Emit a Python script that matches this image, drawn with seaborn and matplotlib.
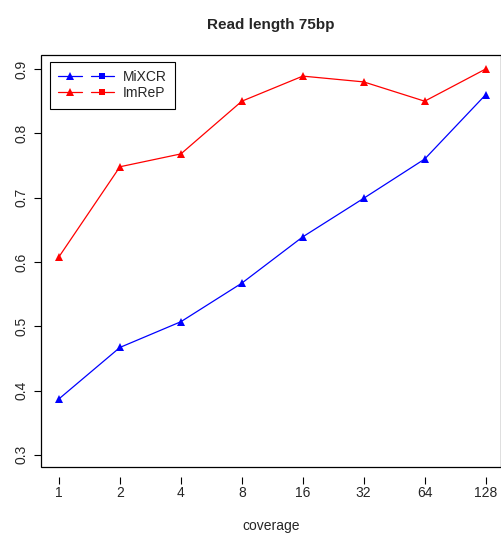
import pandas as pd
import matplotlib
matplotlib.use("Agg")
import matplotlib.pyplot as plt
import seaborn as sns
from matplotlib.lines import Line2D
from matplotlib.legend_handler import HandlerTuple
from matplotlib.patches import Rectangle

coverage = ["1", "2", "4", "8", "16", "32", "64", "128"]
mixcr = [0.387, 0.467, 0.507, 0.567, 0.639, 0.699, 0.760, 0.860]
imrep = [0.608, 0.748, 0.768, 0.850, 0.889, 0.880, 0.850, 0.900]
colors = {"MiXCR": "blue", "ImReP": "red"}

df = pd.DataFrame({
    "pos": list(range(len(coverage))) * 2,
    "value": mixcr + imrep,
    "tool": ["MiXCR"] * len(coverage) + ["ImReP"] * len(coverage),
})

sns.set_style("white")
plt.rcParams["font.family"] = ["Liberation Sans", "DejaVu Sans"]

fig = plt.figure(figsize=(5.02, 5.33), dpi=100)
ax = fig.add_axes([0.0817, 0.1238, 0.916, 0.7732])

sns.lineplot(data=df, x="pos", y="value", hue="tool", palette=colors,
             marker="^", markersize=6, markeredgewidth=0, linewidth=0.9,
             legend=False, ax=ax)

ax.set_xlim(-0.295, 7.25)
ax.set_ylim(0.281, 0.922)
ax.set_xticks(range(len(coverage)))
ax.set_xticklabels(coverage)
ax.set_yticks([0.3, 0.4, 0.5, 0.6, 0.7, 0.8, 0.9])
ax.set_yticklabels(["0.3", "0.4", "0.5", "0.6", "0.7", "0.8", "0.9"],
                   rotation=90, va="center")

for s in ax.spines.values():
    s.set_color("none")
ax.spines["bottom"].set_position(("outward", 7))
ax.add_patch(Rectangle((0, 0), 1, 1, transform=ax.transAxes, fill=False,
                       edgecolor="black", linewidth=0.9, clip_on=False))
ax.tick_params(axis="both", which="both", direction="out", length=5,
               width=0.8, color="black", labelsize=10, bottom=True, left=True)
ax.tick_params(axis="x", pad=1.5)
ax.tick_params(axis="y", pad=4)

ax.set_xlabel("coverage", fontsize=10, labelpad=14)
ax.set_ylabel("")
ax.set_title("Read length 75bp", fontsize=11, fontweight="bold", pad=18.5)

handles = []
for name in ["MiXCR", "ImReP"]:
    c = colors[name]
    h1 = Line2D([], [], color=c, marker="^", markersize=6, markeredgewidth=0, linewidth=0.9)
    h2 = Line2D([], [], color=c, marker="s", markersize=5, markeredgewidth=0, linewidth=0.9)
    handles.append((h1, h2))
leg = ax.legend(handles, ["MiXCR", "ImReP"], loc="upper left",
                bbox_to_anchor=(0.0196, 0.983), borderaxespad=0, fontsize=10,
                frameon=True, fancybox=False, edgecolor="black", framealpha=1,
                handler_map={tuple: HandlerTuple(ndivide=None, pad=0.65)},
                handlelength=4.0, borderpad=0.6, labelspacing=0.15,
                handletextpad=0.65)
leg.get_frame().set_linewidth(0.8)

fig.savefig("out.png", dpi=100)
